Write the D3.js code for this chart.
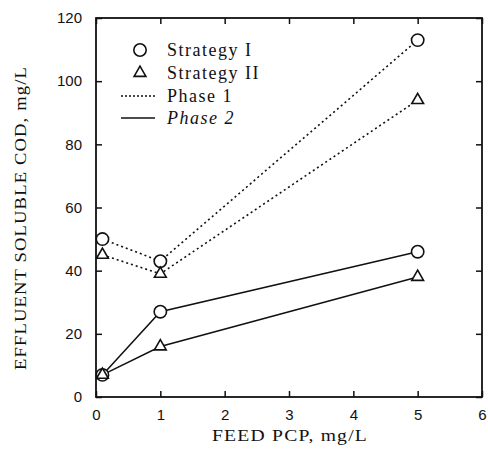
<!DOCTYPE html>
<html>
<head>
<meta charset="utf-8">
<script src="https://d3js.org/d3.v7.min.js"></script>
<style>
body { margin: 0; background: #fff; }
svg text { fill: #111; }
.tick text { font-family: "Liberation Sans", Arial, sans-serif; font-size: 15px; }
.ttl { font-family: "Liberation Serif", "Times New Roman", serif; font-size: 16px; letter-spacing: 1px; }
.leg { font-family: "Liberation Serif", "Times New Roman", serif; font-size: 18px; letter-spacing: 1.5px; }
</style>
</head>
<body>
<script>
var width = 488, height = 457;
var margin = {left: 96, top: 18, right: 6, bottom: 60};

// feed PCP (mg/L)
var feed = [0.1, 1, 5];
// effluent soluble COD (mg/L)
var s1phase1 = [50, 43, 113];
var s2phase1 = [45, 39, 94];
var s1phase2 = [7, 27, 46];
var s2phase2 = [7, 16, 38];

var xTicks = [0, 1, 2, 3, 4, 5, 6];
var yTicks = [0, 20, 40, 60, 80, 100, 120];

var svg = d3.select("body").append("svg")
    .attr("width", width).attr("height", height);

var x = d3.scaleLinear().domain([0, 6]).range([margin.left, width - margin.right]);
var y = d3.scaleLinear().domain([0, 120]).range([height - margin.bottom, margin.top]);

// frame
svg.append("rect")
    .attr("x", x(0)).attr("y", y(120))
    .attr("width", x(6) - x(0)).attr("height", y(0) - y(120))
    .attr("fill", "none").attr("stroke", "#111").attr("stroke-width", 1.8);

// axes with inward ticks
svg.append("g").attr("transform", "translate(0," + y(0) + ")")
    .call(d3.axisBottom(x).tickValues(xTicks).tickSize(-6).tickPadding(12).tickFormat(d3.format("d")));
svg.append("g").attr("transform", "translate(" + x(0) + ",0)")
    .call(d3.axisLeft(y).tickValues(yTicks).tickSize(-6).tickPadding(14).tickFormat(d3.format("d")));
svg.append("g").attr("transform", "translate(0," + y(120) + ")")
    .call(d3.axisTop(x).tickValues(xTicks).tickSize(-6).tickFormat(""));
svg.append("g").attr("transform", "translate(" + x(6) + ",0)")
    .call(d3.axisRight(y).tickValues(yTicks).tickSize(-6).tickFormat(""));
svg.selectAll(".domain").remove();
svg.selectAll(".tick line").attr("stroke", "#111").attr("stroke-width", 1.5);

// titles
svg.append("text").attr("class", "ttl")
    .attr("x", 290).attr("y", 441)
    .attr("text-anchor", "middle")
    .attr("textLength", 156).attr("lengthAdjust", "spacingAndGlyphs")
    .text("FEED PCP, mg/L");
svg.append("text").attr("class", "ttl")
    .attr("transform", "translate(26,218) rotate(-90)")
    .attr("text-anchor", "middle")
    .attr("textLength", 304).attr("lengthAdjust", "spacingAndGlyphs")
    .text("EFFLUENT SOLUBLE COD, mg/L");

var line = d3.line().x(function(d) { return x(d[0]); }).y(function(d) { return y(d[1]); });

function pairs(vals) { return feed.map(function(f, i) { return [f, vals[i]]; }); }

var series = [
    {vals: s1phase1, dash: "2,3", mark: "circle"},
    {vals: s2phase1, dash: "2,3", mark: "triangle"},
    {vals: s1phase2, dash: null, mark: "circle"},
    {vals: s2phase2, dash: null, mark: "triangle"}
];

series.forEach(function(s) {
    svg.append("path")
        .attr("d", line(pairs(s.vals)))
        .attr("fill", "none").attr("stroke", "#111")
        .attr("stroke-width", s.dash ? 1.6 : 1.5)
        .attr("stroke-dasharray", s.dash);
});

var circleSym = d3.symbol().type(d3.symbolCircle).size(120);
var triSym = d3.symbol().type(d3.symbolTriangle).size(60);

series.forEach(function(s) {
    svg.selectAll(null).data(pairs(s.vals)).enter().append("path")
        .attr("transform", function(d) { return "translate(" + x(d[0]) + "," + y(d[1]) + ")"; })
        .attr("d", s.mark == "circle" ? circleSym : triSym)
        .attr("fill", "#fff").attr("stroke", "#111").attr("stroke-width", 1.6);
});

// legend
var leg = svg.append("g");
var legItems = [
    {label: "Strategy I", mark: "circle", y: 50},
    {label: "Strategy II", mark: "triangle", y: 73},
    {label: "Phase 1", dash: "2,2", y: 96},
    {label: "Phase 2", dash: null, y: 118, italic: true}
];
legItems.forEach(function(it) {
    if (it.mark) {
        leg.append("path")
            .attr("transform", "translate(140," + it.y + ")")
            .attr("d", it.mark == "circle" ? circleSym : triSym)
            .attr("fill", "#fff").attr("stroke", "#111").attr("stroke-width", 1.6);
    } else {
        leg.append("line")
            .attr("x1", 121).attr("x2", 155).attr("y1", it.y).attr("y2", it.y)
            .attr("stroke", "#111").attr("stroke-width", 1.5)
            .attr("stroke-dasharray", it.dash);
    }
    leg.append("text").attr("class", "leg")
        .attr("x", 167).attr("y", it.y + 6)
        .style("font-style", it.italic ? "italic" : "normal")
        .text(it.label);
});
</script>
</body>
</html>
